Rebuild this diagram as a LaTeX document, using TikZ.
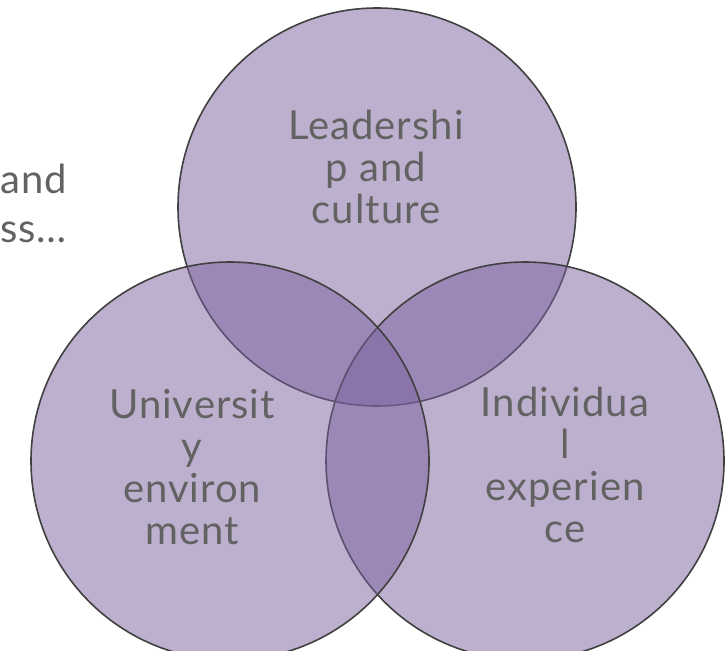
\documentclass[tikz,border=0pt]{standalone}
\usepackage{fontspec}
\setmainfont{Lato}[LetterSpace=2.5]
\definecolor{vfill}{RGB}{123,97,158}
\definecolor{vline}{RGB}{64,64,64}
\definecolor{vtext}{RGB}{98,98,98}
\begin{document}
\begin{tikzpicture}[x=1pt,y=-1pt,
  venn/.style={circle,draw=vline,line width=1.6pt,fill=vfill,fill opacity=0.5,minimum size=398pt,inner sep=0pt},
  lbl/.style={text=vtext,align=center,font=\fontsize{40}{42}\selectfont},
  side/.style={text=vtext,font=\fontsize{40}{42}\selectfont,inner sep=0pt}]
\useasboundingbox (0,0) rectangle (727,650);
\begin{scope}
\clip (0,0) rectangle (727,650);
\node[venn] (top) at (377,207) {};
\node[venn] (right) at (525,461) {};
\node[venn] (left) at (230,461) {};
\end{scope}
\node[side,anchor=base west] (and) at (0,193) {and};
\node[side,anchor=base west] (ss) at (0,242) {ss…};
\node[lbl] (lead) at (376,167) {Leadershi\\p and\\culture};
\node[lbl] (univ) at (192,467) {Universit\\y\\environ\\ment};
\node[lbl] (indiv) at (565,465) {Individua\\l\\experien\\ce};
\end{tikzpicture}
\end{document}
